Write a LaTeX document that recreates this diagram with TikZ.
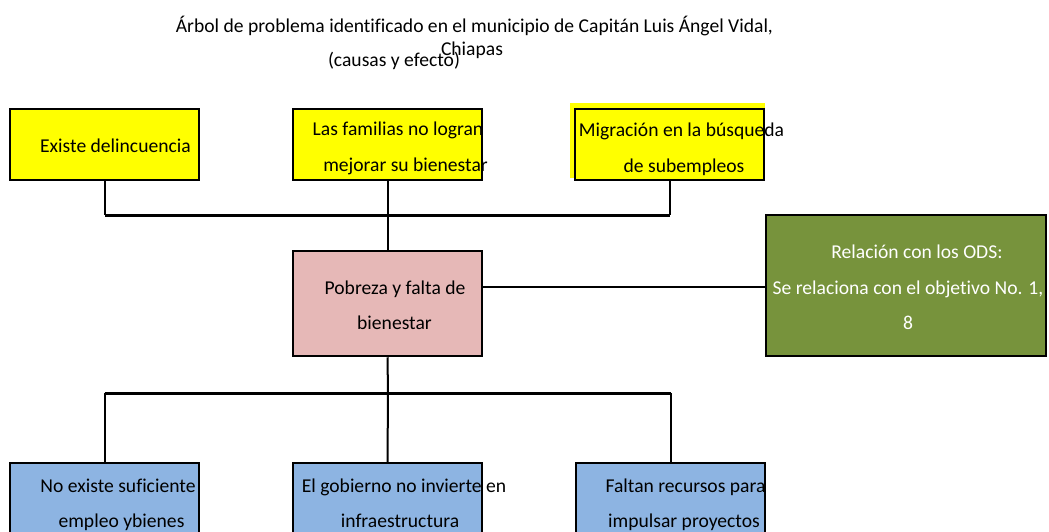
\documentclass[tikz,border=0pt]{standalone}
\usepackage{fontspec}
\setmainfont{Carlito}[Ligatures=NoCommon]
\definecolor{yel}{HTML}{FFFF00}
\definecolor{pinkbox}{HTML}{E6B8B7}
\definecolor{greenbox}{HTML}{77933C}
\definecolor{bluebox}{HTML}{8DB4E2}
\tikzset{
  box/.style={draw=black, line width=2.5pt, inner sep=0pt, minimum width=189pt},
  ybox/.style={box, fill=yel, minimum height=71pt},
  cbox/.style={box, fill=bluebox, minimum height=90pt},
  txt/.style={font=\fontsize{19.6}{22}\selectfont, inner sep=0pt, anchor=base},
  conn/.style={draw=black, line width=2pt},
  hconn/.style={draw=black, line width=3pt}
}
\begin{document}
\begin{tikzpicture}[x=1pt,y=-1pt]
\useasboundingbox (0,0) rectangle (1049,531);
\clip (0,0) rectangle (1049,531);
% title
\node[txt] (t1) at (474.5,32) {Árbol de problema identificado en el municipio de Capitán Luis Ángel Vidal,};
\node[txt] (t3) at (394,66) {(causas y efecto)};
\node[txt] (t2) at (472,55) {Chiapas};
% effects
\node[ybox] (e1) at (104.5,144.5) {};
\node[ybox] (e2) at (387.5,144.5) {};
\fill[yel] (570,103) rectangle (765,178);
\node[ybox] (e3) at (669.5,144.5) {};
\node[txt] (e1t) at (115.5,152) {Existe delincuencia};
\node[txt] (e2a) at (398,135) {Las familias no logran};
\node[txt] (e2b) at (405.5,171) {mejorar su bienestar};
\node[txt] (e3a) at (681.5,136) {Migración en la búsqueda};
\node[txt] (e3b) at (684,172) {de subempleos};
% problem
\node[box, fill=pinkbox, minimum height=105pt] (p) at (387.5,303.5) {};
\node[txt] (pa) at (395,294) {Pobreza y falta de};
\node[txt] (pb) at (394.5,329) {bienestar};
% ODS
\node[box, fill=greenbox, minimum width=280pt, minimum height=141pt] (g) at (906,285.5) {};
\node[txt, text=white] (ga) at (917,258) {Relación con los ODS:};
\node[txt, text=white] (gb) at (908,294) {Se relaciona con el objetivo No. 1,};
\node[txt, text=white] (gc) at (908,329) {8};
% causes
\node[cbox] (c1) at (104.5,508) {};
\node[cbox] (c2) at (387.5,508) {};
\node[cbox] (c3) at (670.5,508) {};
\node[txt] (c1a) at (118,492) {No existe suficiente};
\node[txt] (c1b) at (121.5,527) {empleo ybienes};
\node[txt] (c2a) at (404,492) {El gobierno no invierte en};
\node[txt] (c2b) at (400,527) {infraestructura};
\node[txt] (c3a) at (685.5,492) {Faltan recursos para};
\node[txt] (c3b) at (684,527) {impulsar proyectos};
% connectors
\coordinate (jt) at (388,215);
\coordinate (jb) at (388,393);
\coordinate (jr) at (482,287);
\draw[conn] (e1.south) -- (e1.south |- jt);
\draw[conn] (e3.south) -- (e3.south |- jt);
\draw[hconn] (e1.south |- jt) -- (e3.south |- jt);
\draw[conn] (e2.south) -- (p.north);
\draw[conn] (jr) -- (g.west |- jr);
\draw[conn] (p.south) -- (jb);
\draw[hconn] (c1.north |- jb) -- (c3.north |- jb);
\draw[conn] (c1.north |- jb) -- (c1.north);
\draw[conn] (jb) -- (c2.north);
\draw[conn] (c3.north |- jb) -- (c3.north);
\end{tikzpicture}
\end{document}
